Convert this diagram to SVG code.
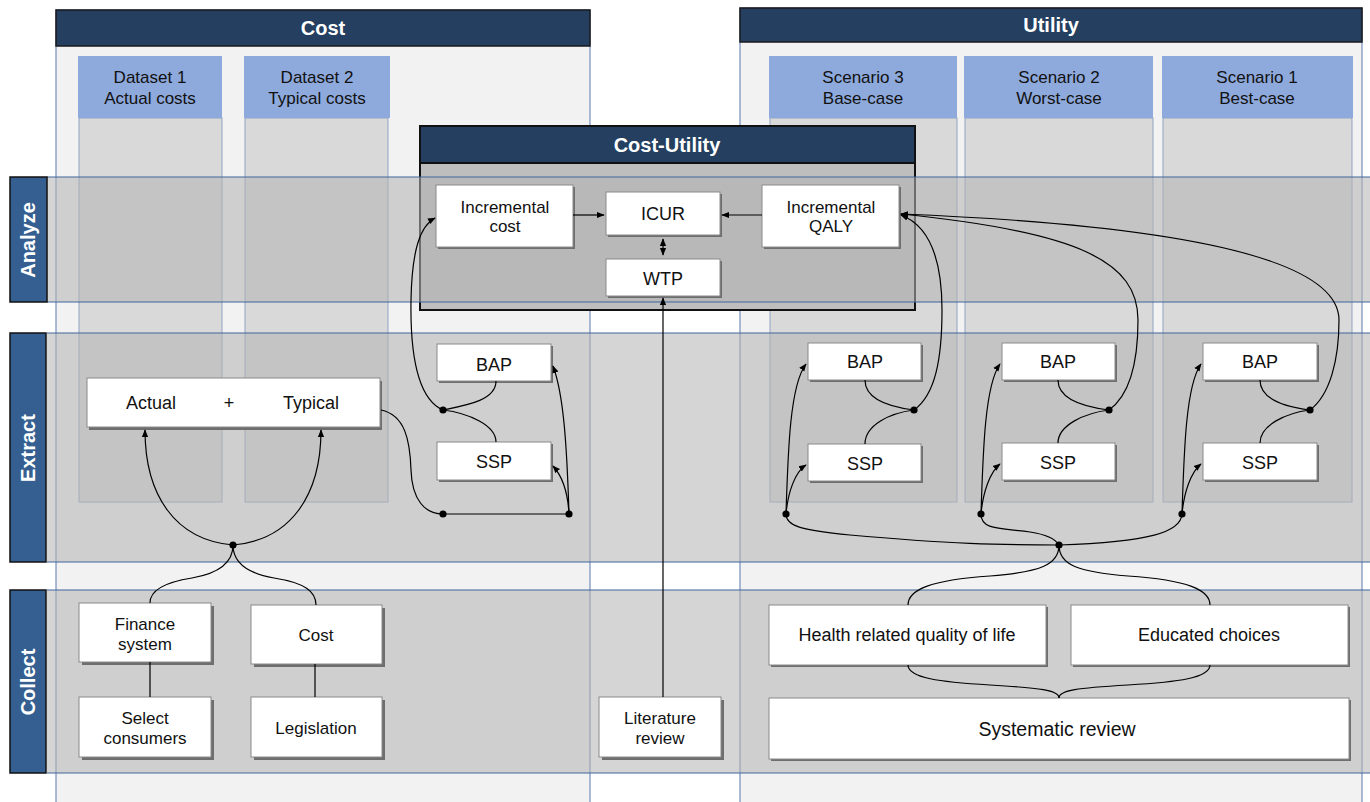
<svg xmlns="http://www.w3.org/2000/svg" width="1370" height="802" viewBox="0 0 1370 802">
<defs>
<style>
.lane{fill:#F2F2F2;stroke:#5A7BB0;stroke-width:1}
.hdr{fill:#243F60;stroke:#1a1a1a;stroke-width:1.5}
.htxt{font-family:"Liberation Sans",Arial,sans-serif;font-weight:bold;font-size:20px;fill:#fff;text-anchor:middle}
.colb{fill:#D9D9D9;stroke:#8FA3C0;stroke-width:1}
.colh{fill:#8EA9DB}
.t17{font-family:"Liberation Sans",Arial,sans-serif;font-size:17px;fill:#111;text-anchor:middle}
.t18{font-family:"Liberation Sans",Arial,sans-serif;font-size:18px;fill:#111;text-anchor:middle}
.band{fill:rgb(180,180,180);fill-opacity:0.56}
.bline{stroke:#41669B;stroke-width:1;fill:none}
.lbl{fill:#365F91;stroke:#111;stroke-width:1.5}
.ltxt{font-family:"Liberation Sans",Arial,sans-serif;font-weight:bold;font-size:20px;fill:#fff;text-anchor:middle}
.nd{fill:#fff;stroke:#8A8A8A;stroke-width:1}
.sh{fill:#6E6E6E}
.c{fill:none;stroke:#000;stroke-width:1.2}
.ca{fill:none;stroke:#000;stroke-width:1.2;marker-end:url(#arr)}
.dot{fill:#000}
</style>
<marker id="arr" viewBox="0 0 10 10" refX="9" refY="5" markerWidth="6.5" markerHeight="6.5" orient="auto-start-reverse">
<path d="M0,1 L10,5 L0,9 z" fill="#000"/>
</marker>
</defs>
<rect width="1370" height="802" fill="#fff"/>

<g id="lane-cost">
<rect class="lane" x="56" y="10" width="534" height="800"/>
<rect class="hdr" x="56" y="10" width="534" height="36"/>
<text class="htxt" x="323" y="35">Cost</text>
</g>
<g id="lane-utility">
<rect class="lane" x="740" y="8" width="622" height="800"/>
<rect class="hdr" x="740" y="8" width="622" height="34"/>
<text class="htxt" x="1051" y="32">Utility</text>
</g>

<g id="col-dataset1">
<rect class="colb" x="79" y="118" width="143" height="384"/>
<rect class="colh" x="78" y="56" width="144" height="62"/>
<text class="t17" x="150" y="83">Dataset 1</text>
<text class="t17" x="150" y="104">Actual costs</text>
</g>
<g id="col-dataset2">
<rect class="colb" x="245" y="118" width="143" height="384"/>
<rect class="colh" x="244" y="56" width="146" height="62"/>
<text class="t17" x="317" y="83">Dataset 2</text>
<text class="t17" x="317" y="104">Typical costs</text>
</g>
<g id="col-scenario3">
<rect class="colb" x="770" y="118" width="187" height="384"/>
<rect class="colh" x="769" y="56" width="188" height="62"/>
<text class="t17" x="863" y="83">Scenario 3</text>
<text class="t17" x="863" y="104">Base-case</text>
</g>
<g id="col-scenario2">
<rect class="colb" x="965" y="118" width="188" height="384"/>
<rect class="colh" x="964" y="56" width="189" height="62"/>
<text class="t17" x="1059" y="83">Scenario 2</text>
<text class="t17" x="1059" y="104">Worst-case</text>
</g>
<g id="col-scenario1">
<rect class="colb" x="1163" y="118" width="189" height="384"/>
<rect class="colh" x="1162" y="56" width="191" height="62"/>
<text class="t17" x="1257" y="83">Scenario 1</text>
<text class="t17" x="1257" y="104">Best-case</text>
</g>

<g id="cost-utility">
<rect x="420" y="126" width="495" height="184" fill="#BEBEBE" stroke="#111" stroke-width="2"/>
<rect x="420" y="126" width="495" height="37" fill="#243F60" stroke="#111" stroke-width="2"/>
<text class="htxt" x="667" y="152">Cost-Utility</text>
</g>

<g id="bands">
<rect class="band" x="47" y="177" width="1323" height="125"/>
<rect class="band" x="47" y="333" width="1323" height="229"/>
<rect class="band" x="47" y="590" width="1323" height="183"/>
<path class="bline" d="M47,177H1370M47,302H1370M47,333H1370M47,562H1370M47,590H1370M47,773H1370"/>
</g>

<g id="label-analyze">
<rect class="lbl" x="10" y="177" width="37" height="125"/>
<text class="ltxt" transform="translate(35,240) rotate(-90)">Analyze</text>
</g>
<g id="label-extract">
<rect class="lbl" x="10" y="333" width="36" height="229"/>
<text class="ltxt" transform="translate(35,448) rotate(-90)">Extract</text>
</g>
<g id="label-collect">
<rect class="lbl" x="10" y="590" width="36" height="183"/>
<text class="ltxt" transform="translate(35,682) rotate(-90)">Collect</text>
</g>

<g id="n-inc-cost">
<rect class="sh" x="438" y="187" width="137" height="62"/>
<rect class="nd" x="436" y="185" width="137" height="62"/>
<text class="t17" x="505" y="213">Incremental</text>
<text class="t17" x="505" y="232">cost</text>
</g>
<g id="n-icur">
<rect class="sh" x="608" y="194" width="114" height="43"/>
<rect class="nd" x="606" y="192" width="114" height="43"/>
<text class="t18" x="663" y="220">ICUR</text>
</g>
<g id="n-wtp">
<rect class="sh" x="608" y="261" width="114" height="37"/>
<rect class="nd" x="606" y="259" width="114" height="37"/>
<text class="t18" x="663" y="285">WTP</text>
</g>
<g id="n-inc-qaly">
<rect class="sh" x="764" y="187" width="137" height="62"/>
<rect class="nd" x="762" y="185" width="137" height="62"/>
<text class="t17" x="831" y="213">Incremental</text>
<text class="t17" x="831" y="232">QALY</text>
</g>

<g id="n-actual-typical">
<rect class="sh" x="89" y="381" width="293" height="49"/>
<rect class="nd" x="87" y="378" width="293" height="49"/>
<text class="t18" x="151" y="409">Actual</text>
<text class="t18" x="229" y="409">+</text>
<text class="t18" x="311" y="409">Typical</text>
</g>
<g id="n-bap-cost">
<rect class="sh" x="439" y="346" width="114" height="37"/>
<rect class="nd" x="437" y="344" width="114" height="37"/>
<text class="t18" x="494" y="371">BAP</text>
</g>
<g id="n-ssp-cost">
<rect class="sh" x="439" y="444" width="114" height="38"/>
<rect class="nd" x="437" y="442" width="114" height="38"/>
<text class="t18" x="494" y="468">SSP</text>
</g>

<g id="n-bap-s3">
<rect class="sh" x="810" y="345" width="113" height="37"/>
<rect class="nd" x="808" y="343" width="113" height="37"/>
<text class="t18" x="865" y="368">BAP</text>
</g>
<g id="n-ssp-s3">
<rect class="sh" x="810" y="446" width="113" height="37"/>
<rect class="nd" x="808" y="444" width="113" height="37"/>
<text class="t18" x="865" y="470">SSP</text>
</g>
<g id="n-bap-s2">
<rect class="sh" x="1004" y="345" width="113" height="37"/>
<rect class="nd" x="1002" y="343" width="113" height="37"/>
<text class="t18" x="1058" y="368">BAP</text>
</g>
<g id="n-ssp-s2">
<rect class="sh" x="1004" y="445" width="113" height="37"/>
<rect class="nd" x="1002" y="443" width="113" height="37"/>
<text class="t18" x="1058" y="469">SSP</text>
</g>
<g id="n-bap-s1">
<rect class="sh" x="1205" y="345" width="114" height="37"/>
<rect class="nd" x="1203" y="343" width="114" height="37"/>
<text class="t18" x="1260" y="368">BAP</text>
</g>
<g id="n-ssp-s1">
<rect class="sh" x="1205" y="445" width="114" height="37"/>
<rect class="nd" x="1203" y="443" width="114" height="37"/>
<text class="t18" x="1260" y="469">SSP</text>
</g>

<g id="n-finance">
<rect class="sh" x="82" y="606" width="132" height="59"/>
<rect class="nd" x="79" y="603" width="132" height="59"/>
<text class="t17" x="145" y="630">Finance</text>
<text class="t17" x="145" y="650">system</text>
</g>
<g id="n-cost">
<rect class="sh" x="254" y="608" width="131" height="59"/>
<rect class="nd" x="251" y="605" width="131" height="59"/>
<text class="t17" x="316" y="641">Cost</text>
</g>
<g id="n-select">
<rect class="sh" x="82" y="700" width="132" height="60"/>
<rect class="nd" x="79" y="697" width="132" height="60"/>
<text class="t17" x="145" y="724">Select</text>
<text class="t17" x="145" y="744">consumers</text>
</g>
<g id="n-legislation">
<rect class="sh" x="254" y="700" width="131" height="60"/>
<rect class="nd" x="251" y="697" width="131" height="60"/>
<text class="t17" x="316" y="734">Legislation</text>
</g>
<g id="n-literature">
<rect class="sh" x="602" y="700" width="122" height="60"/>
<rect class="nd" x="599" y="697" width="122" height="60"/>
<text class="t17" x="660" y="724">Literature</text>
<text class="t17" x="660" y="744">review</text>
</g>
<g id="n-hrqol">
<rect class="sh" x="771" y="607" width="277" height="60"/>
<rect class="nd" x="769" y="605" width="277" height="60"/>
<text class="t18" x="907" y="641">Health related quality of life</text>
</g>
<g id="n-educated">
<rect class="sh" x="1073" y="607" width="277" height="60"/>
<rect class="nd" x="1071" y="605" width="277" height="60"/>
<text class="t18" x="1209" y="641">Educated choices</text>
</g>
<g id="n-systematic">
<rect class="sh" x="771" y="700" width="580" height="61"/>
<rect class="nd" x="769" y="698" width="580" height="61" stroke="#555"/>
<text class="t18" x="1057" y="736" style="font-size:19.5px">Systematic review</text>
</g>

<g id="connectors">
<path class="ca" d="M573,215H604"/>
<path class="ca" d="M762,215H722"/>
<path class="c" d="M663,239V255" marker-start="url(#arr)" marker-end="url(#arr)"/>
<path class="ca" d="M663,697V298"/>

<path class="ca" d="M233,545C175,540 145,495 145,430"/>
<path class="ca" d="M233,545C291,540 321,495 321,430"/>
<path class="c" d="M233,545C233,565 215,574 192,578C160,583 150,592 150,603"/>
<path class="c" d="M233,545C233,565 251,574 274,578C306,583 316,592 316,605"/>
<path class="c" d="M150,662V697M315,664V697"/>

<path class="c" d="M381,410C405,415 410,440 411,470C412,500 425,514 443,514H569"/>
<path class="ca" d="M569,514C567,450 564,395 553,366"/>
<path class="ca" d="M569,514C568,495 563,477 553,466"/>
<path class="c" d="M443,410C468,405 496,400 496,381M443,410C468,413 496,425 496,442"/>
<path class="ca" d="M443,410C420,400 410,360 411,300C412,250 420,226 435,218"/>

<path class="c" d="M914,410C890,407 865,400 865,380M914,410C890,413 865,425 865,444"/>
<path class="c" d="M1109,410C1085,407 1058,400 1058,380M1109,410C1085,413 1058,425 1058,443"/>
<path class="c" d="M1310,410C1286,407 1260,400 1260,380M1310,410C1286,413 1260,425 1260,443"/>
<path class="ca" d="M914,410C935,395 942,360 942,310C942,262 930,226 901,215"/>
<path class="ca" d="M1109,410C1130,395 1138,360 1138,320C1138,262 1080,232 901,214"/>
<path class="ca" d="M1310,410C1330,395 1339,360 1339,320C1339,262 1200,226 901,214"/>

<path class="ca" d="M786,514C788,450 790,385 806,364"/>
<path class="ca" d="M786,514C788,492 795,472 806,465"/>
<path class="ca" d="M981,514C983,450 985,385 1000,364"/>
<path class="ca" d="M981,514C983,492 990,472 1000,464"/>
<path class="ca" d="M1182,514C1184,450 1186,385 1201,364"/>
<path class="ca" d="M1182,514C1184,492 1191,472 1201,464"/>

<path class="c" d="M786,514C786,526 800,530 850,535C950,544 1000,545 1059,545"/>
<path class="c" d="M981,514C981,530 1000,528 1030,532C1050,535 1056,540 1059,545"/>
<path class="c" d="M1182,514C1181,532 1150,542 1059,545"/>
<path class="c" d="M1059,545C1059,565 1040,572 990,576C930,580 908,590 908,605"/>
<path class="c" d="M1059,545C1059,565 1078,572 1128,576C1188,580 1210,590 1210,605"/>
<path class="c" d="M908,665C908,678 940,682 990,685C1040,688 1059,690 1059,698"/>
<path class="c" d="M1210,665C1210,678 1178,682 1128,685C1078,688 1059,690 1059,698"/>

<circle class="dot" cx="233" cy="545" r="3.6"/>
<circle class="dot" cx="443" cy="410" r="3.6"/>
<circle class="dot" cx="443" cy="514" r="3.6"/>
<circle class="dot" cx="569" cy="514" r="3.6"/>
<circle class="dot" cx="914" cy="410" r="3.6"/>
<circle class="dot" cx="1109" cy="410" r="3.6"/>
<circle class="dot" cx="1310" cy="410" r="3.6"/>
<circle class="dot" cx="786" cy="514" r="3.6"/>
<circle class="dot" cx="981" cy="514" r="3.6"/>
<circle class="dot" cx="1182" cy="514" r="3.6"/>
<circle class="dot" cx="1059" cy="545" r="3.6"/>
</g>
</svg>
